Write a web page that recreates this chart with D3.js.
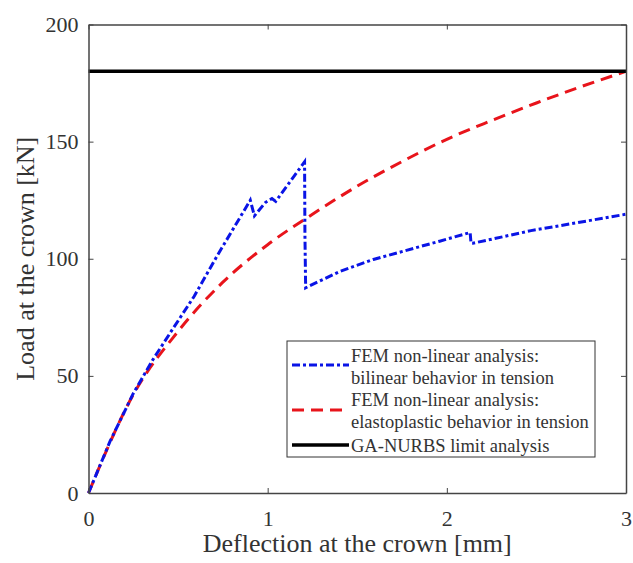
<!DOCTYPE html>
<html><head><meta charset="utf-8">
<script src="https://cdn.jsdelivr.net/npm/d3@7"></script>
<style>body{margin:0;background:#fff}svg{display:block}</style>
</head><body>
<script>
const xTicks = [0, 1, 2, 3];
const yTicks = [0, 50, 100, 150, 200];
const bilinearX = [0, 0.12, 0.25, 0.36, 0.47, 0.59, 0.72, 0.903, 0.926, 0.987, 1.024, 1.045, 1.206, 1.208, 1.212, 1.4, 1.59, 1.96, 2.13, 2.135, 2.145, 2.47, 3.0];
const bilinearY = [0, 22, 42.5, 57, 70, 84, 101.5, 125, 118.3, 124, 125.7, 124.5, 141.4, 110, 87.6, 94.5, 99.7, 107.5, 111.2, 106.6, 106.6, 112, 119];
const elastoX = [0, 0.25, 0.5, 0.75, 1.0, 1.25, 1.5, 1.75, 2.0, 2.25, 2.5, 2.75, 3.0];
const elastoY = [0, 42, 69, 90, 106, 119, 131, 141.5, 151, 159, 166.5, 173.5, 180];
const limitX = [0, 3];
const limitY = [180, 180];
const legendLabels = [
  ["FEM non-linear analysis:", "bilinear behavior in tension"],
  ["FEM non-linear analysis:", "elastoplastic behavior in tension"],
  ["GA-NURBS limit analysis"]
];

const W = 633, H = 563;
const m = {l: 88.5, r: 7, t: 24.5, b: 70};
const svg = d3.select("body").append("svg").attr("width", W).attr("height", H);
const x = d3.scaleLinear().domain([0, 3]).range([m.l, W - m.r]);
const y = d3.scaleLinear().domain([0, 200]).range([H - m.b, m.t]);
const font = "'Liberation Serif','Times New Roman',serif";
const axisCol = "#444";
const textCol = "#333";

// lines
const g = svg.append("g");
g.append("path").datum(d3.zip(elastoX, elastoY))
  .attr("d", d3.line().x(d => x(d[0])).y(d => y(d[1])).curve(d3.curveMonotoneX))
  .attr("fill", "none").attr("stroke", "#e8141b").attr("stroke-width", 3)
  .attr("stroke-dasharray", "12,7");
g.append("path").datum(d3.zip(bilinearX, bilinearY))
  .attr("d", d3.line().x(d => x(d[0])).y(d => y(d[1])))
  .attr("fill", "none").attr("stroke", "#0a14e6").attr("stroke-width", 3)
  .attr("stroke-dasharray", "8,3,3,3");
g.append("path").datum(d3.zip(limitX, limitY))
  .attr("d", d3.line().x(d => x(d[0])).y(d => y(d[1])))
  .attr("fill", "none").attr("stroke", "#000").attr("stroke-width", 3.5);

// axes
const ax = svg.append("g").attr("font-family", font);
const xb = ax.append("g").attr("transform", `translate(0,${H - m.b})`)
  .call(d3.axisBottom(x).tickValues(xTicks).tickFormat(d3.format("d")).tickSizeInner(-5).tickSizeOuter(0).tickPadding(17));
const xt = ax.append("g").attr("transform", `translate(0,${m.t})`)
  .call(d3.axisTop(x).tickValues(xTicks).tickFormat("").tickSizeInner(-5).tickSizeOuter(0));
const yl = ax.append("g").attr("transform", `translate(${m.l},0)`)
  .call(d3.axisLeft(y).tickValues(yTicks).tickFormat(d3.format("d")).tickSizeInner(-5).tickSizeOuter(0).tickPadding(10));
const yr = ax.append("g").attr("transform", `translate(${W - m.r},0)`)
  .call(d3.axisRight(y).tickValues(yTicks).tickFormat("").tickSizeInner(-5).tickSizeOuter(0));
[xb, xt, yl, yr].forEach(a => {
  a.select(".domain").attr("stroke", axisCol).attr("stroke-width", 1.5);
  a.selectAll(".tick line").attr("stroke", axisCol);
  a.selectAll("text").attr("font-size", 22).attr("fill", textCol).attr("font-family", font);
});

// axis titles
svg.append("text").attr("x", x(1.5)).attr("y", 552).attr("text-anchor", "middle")
  .attr("font-family", font).attr("font-size", 26).attr("fill", textCol)
  .text("Deflection at the crown [mm]");
svg.append("text").attr("transform", `translate(34,${y(100)}) rotate(-90)`).attr("text-anchor", "middle")
  .attr("font-family", font).attr("font-size", 26).attr("fill", textCol)
  .text("Load at the crown [kN]");

// legend
const lg = svg.append("g").attr("font-family", font);
lg.append("rect").attr("x", 287).attr("y", 341).attr("width", 308).attr("height", 116)
  .attr("fill", "#fff").attr("stroke", "#333").attr("stroke-width", 1);
const styles = [
  {c: "#0a14e6", d: "8,3,3,3", w: 3, ly: 365},
  {c: "#e8141b", d: "12,7", w: 3, ly: 410},
  {c: "#000", d: null, w: 3.5, ly: 445}
];
const textRows = [[356, 378], [400, 422], [446]];
styles.forEach((s, i) => {
  lg.append("line").attr("x1", 292).attr("x2", 349).attr("y1", s.ly).attr("y2", s.ly)
    .attr("stroke", s.c).attr("stroke-width", s.w).attr("stroke-dasharray", s.d);
  legendLabels[i].forEach((t, j) => {
    lg.append("text").attr("x", 351).attr("y", textRows[i][j]).attr("dy", "0.35em")
      .attr("font-size", 18.5).attr("fill", textCol).text(t);
  });
});
</script>
</body></html>
